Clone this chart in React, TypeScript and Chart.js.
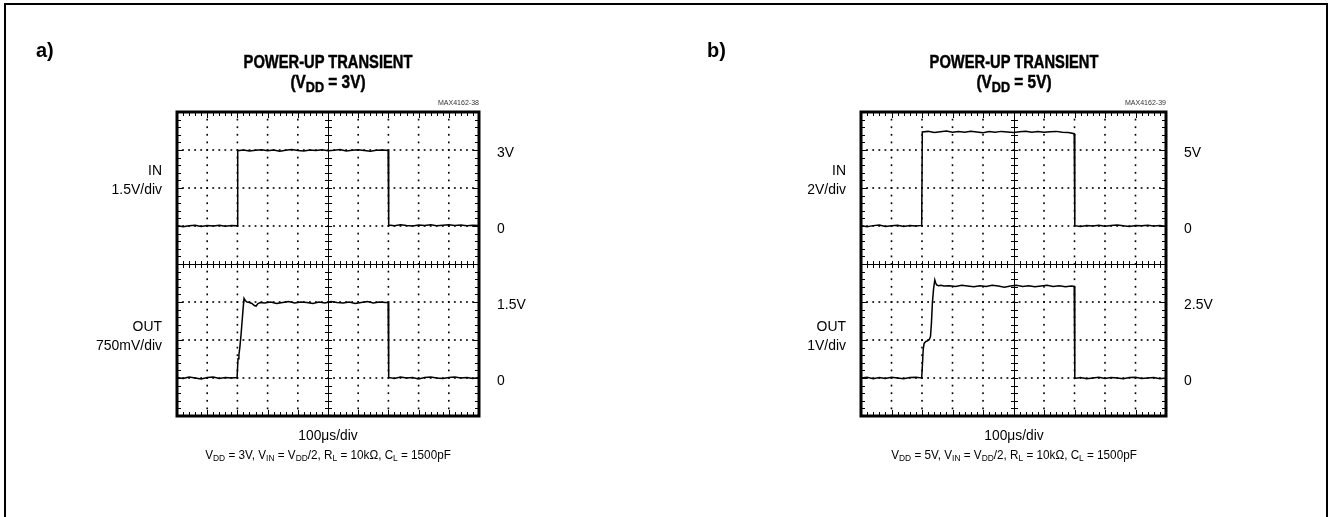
import React, { useEffect, useRef } from "react";
import { Chart, registerables } from "chart.js";

Chart.register(...registerables);

// ---------------- DATA (time in µs, values in volts) ----------------
// Panel a) VDD = 3V
const timeInA = [0, 20, 40, 60, 80, 100, 120, 140, 160, 180, 199, 201, 220, 240, 260, 280, 300, 320, 340, 360, 380, 400, 420, 440, 460, 480, 500, 520, 540, 560, 580, 600, 620, 640, 660, 680, 699, 701, 720, 740, 760, 780, 800, 820, 840, 860, 880, 900, 920, 940, 960, 980, 1000];
const voltsInA = [0.02, -0.03, 0.01, 0.03, -0.02, 0.02, 0.0, 0.03, -0.01, 0.02, 0.01,
  2.97, 3.0, 2.96, 2.99, 3.01, 2.97, 3.0, 2.95, 2.99, 3.02, 2.98, 2.96, 3.0, 2.98, 3.01, 2.97, 2.99, 3.02, 2.96, 2.99, 3.01, 2.98, 2.95, 2.99, 3.0, 2.98,
  0.04, 0.01, 0.05, 0.02, 0.0, 0.04, 0.02, 0.05, 0.01, 0.03, 0.05, 0.02, 0.04, 0.01, 0.03, 0.02];

const timeOutA = [0, 20, 40, 60, 80, 100, 120, 140, 160, 180, 199,
  202, 205, 208, 212, 216, 219, 222, 226, 232, 240, 248, 256, 262, 268, 276,
  290, 310, 330, 350, 370, 390, 410, 430, 450, 470, 490, 510, 530, 550, 570, 590, 610, 630, 650, 670, 690, 699,
  701, 720, 740, 760, 780, 800, 820, 840, 860, 880, 900, 920, 940, 960, 980, 1000];
const voltsOutA = [0.01, -0.01, 0.02, 0.0, -0.02, 0.01, 0.02, -0.01, 0.01, 0.0, 0.01,
  0.38, 0.46, 0.6, 0.85, 1.15, 1.38, 1.57, 1.53, 1.5, 1.49, 1.47, 1.43, 1.42, 1.47, 1.49,
  1.48, 1.5, 1.47, 1.49, 1.51, 1.48, 1.5, 1.49, 1.47, 1.5, 1.48, 1.51, 1.49, 1.48, 1.5, 1.47, 1.49, 1.51, 1.48, 1.5, 1.49, 1.49,
  0.01, -0.01, 0.02, 0.0, 0.01, -0.02, 0.01, 0.02, 0.0, -0.01, 0.01, 0.02, 0.0, 0.01, -0.01, 0.01];

// Panel b) VDD = 5V
const timeInB = [0, 20, 40, 60, 80, 100, 120, 140, 160, 180, 199, 201, 220, 240, 260, 280, 300, 320, 340, 360, 380, 400, 420, 440, 460, 480, 500, 520, 540, 560, 580, 600, 620, 640, 660, 680, 699, 701, 720, 740, 760, 780, 800, 820, 840, 860, 880, 900, 920, 940, 960, 980, 1000];
const voltsInB = [0.03, -0.04, 0.02, 0.05, -0.02, 0.01, 0.04, -0.03, 0.02, 0.0, 0.03,
  4.95, 4.98, 4.92, 4.96, 5.0, 4.94, 4.97, 4.93, 4.99, 4.95, 4.91, 4.97, 4.94, 4.98, 4.95, 4.92, 4.96, 4.99, 4.94, 4.97, 4.93, 4.96, 4.98, 4.94, 4.92, 4.86,
  0.02, -0.02, 0.03, 0.0, 0.04, -0.01, 0.02, 0.05, 0.01, -0.02, 0.03, 0.01, 0.04, 0.0, 0.02, -0.01];

const timeOutB = [0, 20, 40, 60, 80, 100, 120, 140, 160, 180, 199,
  201, 204, 207, 212, 218, 224, 228, 231, 234, 238, 242, 245, 248, 254, 262, 272,
  290, 310, 330, 350, 370, 390, 410, 430, 450, 470, 490, 510, 530, 550, 570, 590, 610, 630, 650, 670, 690, 699,
  701, 720, 740, 760, 780, 800, 820, 840, 860, 880, 900, 920, 940, 960, 980, 1000];
const voltsOutB = [0.0, 0.02, -0.02, 0.01, -0.01, 0.02, 0.0, -0.02, 0.01, 0.02, 0.0,
  0.3, 0.75, 0.91, 0.96, 0.98, 1.01, 1.1, 1.45, 1.97, 2.35, 2.58, 2.5, 2.45, 2.43, 2.44, 2.42,
  2.43, 2.41, 2.44, 2.42, 2.4, 2.43, 2.41, 2.44, 2.42, 2.39, 2.42, 2.44, 2.41, 2.43, 2.4, 2.42, 2.44, 2.41, 2.43, 2.4, 2.42, 2.41,
  -0.01, 0.01, -0.02, 0.0, 0.02, -0.01, 0.01, 0.0, -0.02, 0.01, 0.02, -0.01, 0.0, 0.01, -0.02, 0.0];

// Scope settings (volts per division, division where 0 V sits)
const inScaleA = [1.5, 5];
const outScaleA = [0.75, 1];
const inScaleB = [2, 5];
const outScaleB = [1, 1];
const timePerDiv = 100;
const xDivisions = 10;
const yDivisions = 8;

// Text / tick labels
const rightLabelsA = ["3V", "0", "1.5V", "0"];
const rightLabelsB = ["5V", "0", "2.5V", "0"];
const rightLabelDivs = [7, 5, 3, 1];
const inLabelA = ["IN", "1.5V/div"];
const outLabelA = ["OUT", "750mV/div"];
const inLabelB = ["IN", "2V/div"];
const outLabelB = ["OUT", "1V/div"];
const vddA = "3V";
const vddB = "5V";
const codeA = "MAX4162-38";
const codeB = "MAX4162-39";

// ---------------- LAYOUT ----------------
const FONT = "'Liberation Sans', Arial, Helvetica, sans-serif";

type Plot = { left: number; top: number; right: number; bottom: number };

const zip = (t: number[], v: number[]) => t.map((x, i) => ({ x, y: v[i] }));

const graticule = {
  id: "graticule",
  beforeDatasetsDraw(chart: any) {
    const { ctx, chartArea: a, scales } = chart;
    const xs = scales.x;
    const ys = scales.yGrid;
    ctx.save();
    ctx.fillStyle = "#000";
    // dotted vertical lines
    for (let i = 1; i < xDivisions; i++) {
      if (i === xDivisions / 2) continue;
      const x = xs.getPixelForValue(i * timePerDiv);
      for (let j = 1; j < yDivisions * 5; j++) {
        const y = ys.getPixelForValue(j * 0.2);
        ctx.fillRect(x - 0.8, y - 0.9, 1.6, 1.8);
      }
    }
    // dotted horizontal lines
    for (let k = 1; k < yDivisions; k++) {
      if (k === yDivisions / 2) continue;
      const y = ys.getPixelForValue(k);
      for (let j = 1; j < xDivisions * 5; j++) {
        const x = xs.getPixelForValue(j * timePerDiv / 5);
        ctx.fillRect(x - 0.9, y - 0.8, 1.8, 1.6);
      }
    }
    ctx.strokeStyle = "#000";
    ctx.lineWidth = 1;
    const cx = Math.round(xs.getPixelForValue((xDivisions / 2) * timePerDiv)) + 0.5;
    const cy = Math.round(ys.getPixelForValue(yDivisions / 2)) + 0.5;
    ctx.beginPath();
    ctx.moveTo(cx, a.top);
    ctx.lineTo(cx, a.bottom);
    ctx.moveTo(a.left, cy);
    ctx.lineTo(a.right, cy);
    // minor ticks on centre lines and edges
    for (let j = 1; j < xDivisions * 5; j++) {
      const x = Math.round(xs.getPixelForValue(j * timePerDiv / 5)) + 0.5;
      const major = j % 5 === 0;
      ctx.moveTo(x, cy - 3.5);
      ctx.lineTo(x, cy + 3.5);
      ctx.moveTo(x, a.top);
      ctx.lineTo(x, a.top + (major ? 6 : 4));
      ctx.moveTo(x, a.bottom);
      ctx.lineTo(x, a.bottom - (major ? 6 : 4));
    }
    for (let j = 1; j < yDivisions * 5; j++) {
      const y = Math.round(ys.getPixelForValue(j * 0.2)) + 0.5;
      const major = j % 5 === 0;
      ctx.moveTo(cx - 3.5, y);
      ctx.lineTo(cx + 3.5, y);
      ctx.moveTo(a.left, y);
      ctx.lineTo(a.left + (major ? 6 : 4), y);
      ctx.moveTo(a.right, y);
      ctx.lineTo(a.right - (major ? 6 : 4), y);
    }
    ctx.stroke();
    ctx.restore();
  },
  afterDatasetsDraw(chart: any) {
    const { ctx, chartArea: a } = chart;
    ctx.save();
    ctx.strokeStyle = "#000";
    ctx.lineWidth = 3;
    ctx.strokeRect(a.left, a.top, a.right - a.left, a.bottom - a.top);
    ctx.restore();
  },
};

function ScopeChart(props: {
  offsetX: number;
  plot: Plot;
  inPts: { x: number; y: number }[];
  outPts: { x: number; y: number }[];
  inScale: number[];
  outScale: number[];
}) {
  const ref = useRef<HTMLCanvasElement>(null);
  useEffect(() => {
    const { plot, offsetX, inScale, outScale } = props;
    const W = 664;
    const H = 517;
    const chart = new Chart(ref.current as HTMLCanvasElement, {
      type: "line",
      data: {
        datasets: [
          { data: props.inPts, yAxisID: "yIn", borderColor: "#000", borderWidth: 1.5, pointRadius: 0, tension: 0 },
          { data: props.outPts, yAxisID: "yOut", borderColor: "#000", borderWidth: 1.5, pointRadius: 0, tension: 0 },
        ],
      },
      options: {
        animation: false,
        responsive: false,
        maintainAspectRatio: false,
        devicePixelRatio: 1,
        events: [],
        layout: {
          padding: {
            left: plot.left - offsetX,
            top: plot.top,
            right: W - (plot.right - offsetX),
            bottom: H - plot.bottom,
          },
        },
        plugins: { legend: { display: false }, tooltip: { enabled: false }, title: { display: false } },
        scales: {
          x: { type: "linear", min: 0, max: xDivisions * timePerDiv, display: false },
          yIn: { type: "linear", min: -inScale[1] * inScale[0], max: (yDivisions - inScale[1]) * inScale[0], display: false },
          yOut: { type: "linear", min: -outScale[1] * outScale[0], max: (yDivisions - outScale[1]) * outScale[0], display: false },
          yGrid: { type: "linear", axis: "y", min: 0, max: yDivisions, display: false },
        },
      } as any,
      plugins: [graticule],
    });
    return () => chart.destroy();
  }, []);
  return (
    <canvas
      ref={ref}
      width={664}
      height={517}
      style={{ position: "absolute", left: props.offsetX, top: 0, width: 664, height: 517 }}
    />
  );
}

function T(props: {
  x: number;
  y: number;
  align?: "left" | "center" | "right";
  size?: number;
  bold?: boolean;
  heavy?: boolean;
  sx?: number;
  color?: string;
  children: React.ReactNode;
}) {
  const { x, y, align = "left", size = 15, bold = false, heavy = false, sx = 0.9, color = "#000" } = props;
  const tx = align === "center" ? "-50%" : align === "right" ? "-100%" : "0%";
  const ox = align === "center" ? "50%" : align === "right" ? "100%" : "0%";
  return (
    <div
      style={{
        position: "absolute",
        left: x,
        top: y,
        transform: `translate(${tx}, -50%) scaleX(${sx})`,
        transformOrigin: `${ox} 50%`,
        fontFamily: FONT,
        fontSize: size,
        fontWeight: bold ? 700 : 400,
        lineHeight: 1,
        whiteSpace: "nowrap",
        color,
        WebkitTextStroke: heavy ? `0.45px ${color}` : undefined,
      }}
    >
      {props.children}
    </div>
  );
}

const Sub = (p: { children: React.ReactNode; big?: boolean }) => (
  <span style={{ fontSize: p.big ? "0.82em" : "0.72em", position: "relative", top: "0.25em" }}>{p.children}</span>
);

function Panel(props: {
  letter: string;
  letterX: number;
  offsetX: number;
  plot: Plot;
  vdd: string;
  code: string;
  inLabel: string[];
  outLabel: string[];
  rightLabels: string[];
  inPts: { x: number; y: number }[];
  outPts: { x: number; y: number }[];
  inScale: number[];
  outScale: number[];
}) {
  const { plot } = props;
  const cx = (plot.left + plot.right) / 2;
  const divH = (plot.bottom - plot.top) / yDivisions;
  const labelRight = plot.left - 15;
  return (
    <>
      <ScopeChart
        offsetX={props.offsetX}
        plot={plot}
        inPts={props.inPts}
        outPts={props.outPts}
        inScale={props.inScale}
        outScale={props.outScale}
      />
      <T x={props.letterX} y={49} size={21} bold sx={0.95}>{props.letter}</T>
      <T x={cx} y={63} align="center" size={17.5} bold heavy sx={0.84}>POWER-UP TRANSIENT</T>
      <T x={cx} y={83} align="center" size={17.5} bold heavy sx={0.88}>
        (V<Sub big>DD</Sub> = {props.vdd})
      </T>
      <T x={plot.right} y={103} align="right" size={8} sx={0.88} color="#333">{props.code}</T>
      <T x={labelRight} y={plot.top + 1.5 * divH} align="right" size={15} sx={0.93}>{props.inLabel[0]}</T>
      <T x={labelRight} y={plot.top + 2 * divH} align="right" size={15} sx={0.93}>{props.inLabel[1]}</T>
      <T x={labelRight} y={plot.top + 5.6 * divH} align="right" size={15} sx={0.93}>{props.outLabel[0]}</T>
      <T x={labelRight} y={plot.top + 6.1 * divH} align="right" size={15} sx={0.93}>{props.outLabel[1]}</T>
      {props.rightLabels.map((s, i) => (
        <T key={i} x={plot.right + 18} y={plot.bottom - rightLabelDivs[i] * divH + 1} size={15} sx={0.93}>{s}</T>
      ))}
      <T x={cx} y={434} align="center" size={15} sx={0.92}>100μs/div</T>
      <T x={cx} y={455} align="center" size={13} sx={0.9}>
        V<Sub>DD</Sub> = {props.vdd}, V<Sub>IN</Sub> = V<Sub>DD</Sub>/2, R<Sub>L</Sub> = 10kΩ, C<Sub>L</Sub> = 1500pF
      </T>
    </>
  );
}

export default function App() {
  return (
    <div style={{ position: "absolute", left: 0, top: 0, width: 1328, height: 517, overflow: "hidden", background: "#fff" }}>
      <div
        style={{
          position: "absolute",
          left: 4,
          top: 3,
          width: 1324,
          height: 700,
          boxSizing: "border-box",
          border: "2px solid #000",
        }}
      />
      <Panel
        letter="a)"
        letterX={36}
        offsetX={0}
        plot={{ left: 177, top: 112, right: 479, bottom: 416 }}
        vdd={vddA}
        code={codeA}
        inLabel={inLabelA}
        outLabel={outLabelA}
        rightLabels={rightLabelsA}
        inPts={zip(timeInA, voltsInA)}
        outPts={zip(timeOutA, voltsOutA)}
        inScale={inScaleA}
        outScale={outScaleA}
      />
      <Panel
        letter="b)"
        letterX={707}
        offsetX={664}
        plot={{ left: 861, top: 112, right: 1166, bottom: 416 }}
        vdd={vddB}
        code={codeB}
        inLabel={inLabelB}
        outLabel={outLabelB}
        rightLabels={rightLabelsB}
        inPts={zip(timeInB, voltsInB)}
        outPts={zip(timeOutB, voltsOutB)}
        inScale={inScaleB}
        outScale={outScaleB}
      />
    </div>
  );
}
